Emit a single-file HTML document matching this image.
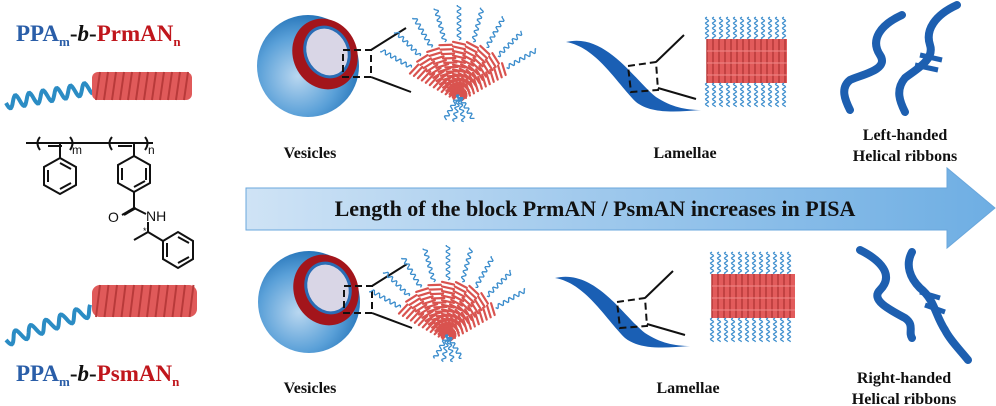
<!DOCTYPE html>
<html><head><meta charset="utf-8"><style>
html,body{margin:0;padding:0;background:#fff;}
svg{display:block;}
text{font-family:"Liberation Serif",serif;font-weight:bold;}
</style></head><body>
<svg id="s" width="996" height="406" viewBox="0 0 996 406" xmlns="http://www.w3.org/2000/svg">
<defs>
<radialGradient id="sph" cx="0.4" cy="0.6" r="0.65">
<stop offset="0" stop-color="#b9d7f0"/><stop offset="0.6" stop-color="#5aa0d8"/><stop offset="1" stop-color="#1f6fb5"/>
</radialGradient>
<linearGradient id="arr" x1="0" x2="1" y1="0" y2="0">
<stop offset="0" stop-color="#cfe3f5"/><stop offset="0.5" stop-color="#9cc7ec"/><stop offset="1" stop-color="#6eaee3"/>
</linearGradient>
</defs>
<path d="M246,188 L947,188 L947,168 L995,208 L947,248 L947,230 L246,230 Z" fill="url(#arr)" stroke="#6aa7dc" stroke-width="1"/>
<text x="595" y="216" font-size="22" text-anchor="middle" fill="#111">Length of the block PrmAN / PsmAN increases in PISA</text>

<text x="16" y="41" font-size="23"><tspan fill="#2a5ea8">PPA</tspan><tspan fill="#2a5ea8" font-size="13" dy="5">m</tspan><tspan fill="#111" dy="-5">-</tspan><tspan fill="#111" font-style="italic">b</tspan><tspan fill="#111">-</tspan><tspan fill="#c0161c">PrmAN</tspan><tspan fill="#c0161c" font-size="13" dy="5">n</tspan></text>
<text x="16" y="381" font-size="23"><tspan fill="#2a5ea8">PPA</tspan><tspan fill="#2a5ea8" font-size="13" dy="5">m</tspan><tspan fill="#111" dy="-5">-</tspan><tspan fill="#111" font-style="italic">b</tspan><tspan fill="#111">-</tspan><tspan fill="#c0161c">PsmAN</tspan><tspan fill="#c0161c" font-size="13" dy="5">n</tspan></text>

<g stroke="#111" stroke-width="2" fill="none">
<path d="M26,143 L153,143"/>
<path d="M40,137 Q35,143 40,150 M70,137 Q75,143 70,150 M112,137 Q107,143 112,150 M145,137 Q150,143 145,150"/>
<path d="M48,146 L62,146 M118,146 L132,146"/>
<path d="M60,143 L60,158"/>
<polygon points="60,158 76,167 76,185 60,194 44,185 44,167"/>
<path d="M48,170 L48,182 M60,163 L71,169 M60,189 L71,183"/>
<path d="M134,143 L134,156"/>
<polygon points="134,156 150,165 150,183 134,192 118,183 118,165"/>
<path d="M122,168 L122,180 M146,168 L146,180 M134,187 L145,181"/>
<path d="M134,192 L134,208 L122,215 M134,208 L146,214"/>
<path d="M136,208 L124,215"/>
<path d="M148,222 L148,232 L134,240 M148,232 L163,241"/>
<polygon points="163,241 178,232 193,241 193,259 178,268 163,259"/>
<path d="M167,243 L167,257 M178,237 L189,243 M178,263 L189,257"/>
</g>
<text x="108" y="222" font-size="14" fill="#111" style="font-family:'Liberation Sans',sans-serif;font-weight:normal">O</text>
<text x="146" y="221" font-size="14" fill="#111" style="font-family:'Liberation Sans',sans-serif;font-weight:normal">NH</text>
<text x="72" y="154" font-size="12" fill="#111" style="font-family:'Liberation Sans',sans-serif;font-weight:normal">m</text>
<text x="148" y="154" font-size="12" fill="#111" style="font-family:'Liberation Sans',sans-serif;font-weight:normal">n</text>
<text x="143" y="234" font-size="9" fill="#111" style="font-family:'Liberation Sans',sans-serif;font-weight:normal">*</text>

<g id="dyn"></g>

<g font-size="16" fill="#111" text-anchor="middle">
<text x="310" y="158">Vesicles</text>
<text x="685" y="158">Lamellae</text>
<text x="905" y="140">Left-handed</text>
<text x="905" y="161">Helical ribbons</text>
<text x="310" y="393">Vesicles</text>
<text x="688" y="393">Lamellae</text>
<text x="904" y="383">Right-handed</text>
<text x="904" y="404">Helical ribbons</text>
</g>
</svg>
<script>
var NS="http://www.w3.org/2000/svg",G=document.getElementById("dyn");
function el(t,a){var e=document.createElementNS(NS,t);for(var k in a)e.setAttribute(k,a[k]);G.appendChild(e);return e;}
function wave(x1,y1,x2,y2,amp,per,col,w){var dx=x2-x1,dy=y2-y1,L=Math.hypot(dx,dy),ux=dx/L,uy=dy/L,d="";for(var s=0;s<=L;s+=1){var o=amp*Math.sin(s/per*2*Math.PI);var x=x1+ux*s-uy*o,y=y1+uy*s+ux*o;d+=(s?"L":"M")+x.toFixed(1)+","+y.toFixed(1);}el("path",{d:d,stroke:col,"stroke-width":w,fill:"none"});}
function coil(x1,y1,x2,y2,rad,n,w){var dx=x2-x1,dy=y2-y1,L=Math.hypot(dx,dy),ux=dx/L,uy=dy/L;for(var i=0;i<n;i++){var cx=x1+ux*L*i/n,cy=y1+uy*L*i/n;var ex=cx+ux*L/n*0.6,ey=cy+uy*L/n*0.6;el("path",{d:"M"+(cx-uy*rad)+","+(cy+ux*rad)+"L"+(ex+uy*rad)+","+(ey-ux*rad),stroke:"#d9534f","stroke-width":w,fill:"none","stroke-linecap":"round"});}}
wave(6,103,92,88,6,14,"#2b8cc4",4);
el("rect",{x:92,y:72,width:100,height:28,rx:6,fill:"#e05a5a"});
for(var i=0;i<12;i++)el("path",{d:"M"+(96+i*8)+",100 L"+(100+i*8)+",72",stroke:"#b83a3a","stroke-width":2});
wave(6,340,92,310,6,16,"#2b8cc4",4);
el("rect",{x:92,y:285,width:105,height:32,rx:8,fill:"#e05a5a"});
for(var i=0;i<12;i++)el("path",{d:"M"+(96+i*8.5)+",317 L"+(100+i*8.5)+",285",stroke:"#b83a3a","stroke-width":2});
function vesicle(cx,cy,fx,fy){
 el("circle",{cx:cx,cy:cy,r:51,fill:"url(#sph)"});
 el("ellipse",{cx:cx+17,cy:cy-12,rx:32,ry:36,fill:"#a3151b",transform:"rotate(-25 "+(cx+17)+" "+(cy-12)+")"});
 el("ellipse",{cx:cx+19,cy:cy-14,rx:23,ry:27,fill:"#2a6db5",transform:"rotate(-25 "+(cx+19)+" "+(cy-14)+")"});
 el("ellipse",{cx:cx+19,cy:cy-14,rx:20,ry:24,fill:"#d9d6e6",transform:"rotate(-25 "+(cx+19)+" "+(cy-14)+")"});
 el("rect",{x:cx+35,y:cy-16,width:28,height:27,fill:"none",stroke:"#111","stroke-width":2,"stroke-dasharray":"7,4"});
 el("path",{d:"M"+(cx+63)+","+(cy-16)+" L"+(cx+98)+","+(cy-38)+" M"+(cx+63)+","+(cy+11)+" L"+(cx+103)+","+(cy+26),stroke:"#111","stroke-width":2});
 for(var a=-60;a<=60;a+=15){var r=a*Math.PI/180;var tx=fx+Math.sin(r)*55,ty=fy-Math.cos(r)*55;coil(fx,fy,tx,ty,6,12,2.2);wave(tx,ty,fx+Math.sin(r)*90,fy-Math.cos(r)*90,2,6,"#3a8ccc",1.3);}
 for(var a=150;a<=210;a+=20){var r=a*Math.PI/180;wave(fx,fy,fx+Math.sin(r)*28,fy-Math.cos(r)*28,2,6,"#3a8ccc",1.3);}
}
vesicle(308,66,459,95);
vesicle(309,302,448,335);
function lamella(x0,y0,sx,bx,by,bw){
 el("path",{d:"M"+x0+","+y0+" C"+(x0+40)+","+(y0-10)+" "+(x0+70)+","+(y0+40)+" "+(x0+90)+","+(y0+55)+" C"+(x0+105)+","+(y0+65)+" "+(x0+120)+","+(y0+68)+" "+(x0+135)+","+(y0+68)+" C"+(x0+110)+","+(y0+70)+" "+(x0+85)+","+(y0+72)+" "+(x0+70)+","+(y0+60)+" C"+(x0+50)+","+(y0+40)+" "+(x0+30)+","+(y0+5)+" "+x0+","+y0+"Z",fill:"#1a5fb4"});
 el("path",{d:"M"+(x0+62)+","+(y0+24)+" L"+(x0+90)+","+(y0+20)+" L"+(x0+92)+","+(y0+48)+" L"+(x0+65)+","+(y0+50)+" Z",fill:"none",stroke:"#111","stroke-width":2,"stroke-dasharray":"7,4"});
 el("path",{d:"M"+(x0+90)+","+(y0+20)+" L"+(x0+118)+","+(y0-7)+" M"+(x0+92)+","+(y0+46)+" L"+(x0+130)+","+(y0+57),stroke:"#111","stroke-width":2});
 el("rect",{x:bx,y:by+22,width:bw,height:44,fill:"#e25b5b"});
 for(var i=0;i<=bw;i+=6)el("path",{d:"M"+(bx+i)+","+(by+22)+" L"+(bx+i)+","+(by+66),stroke:"#b83a3a","stroke-width":1.5});
 for(var j=0;j<3;j++)el("path",{d:"M"+bx+","+(by+34+j*12)+" L"+(bx+bw)+","+(by+34+j*12),stroke:"#f08a8a","stroke-width":1});
 for(var i=0;i<=bw;i+=7){wave(bx+i,by,bx+i,by+22,1.6,5,"#3a8ccc",1.2);wave(bx+i,by+66,bx+i,by+90,1.6,5,"#3a8ccc",1.2);}
}
lamella(566,42,0,707,17,80);
lamella(555,278,0,712,252,83);
function ribbon(d){el("path",{d:d,stroke:"#1d5fb0","stroke-width":8,fill:"none","stroke-linecap":"round"});}
ribbon("M902,15 C880,25 870,40 880,55 C890,70 860,75 850,80 C840,88 845,100 850,110");
ribbon("M957,5 C935,15 925,30 930,45 C935,60 915,70 905,78 C895,90 900,102 905,112");
el("path",{d:"M920,55 L942,60 M915,65 L938,70",stroke:"#1d5fb0","stroke-width":5});
ribbon("M860,250 C880,260 895,275 880,290 C870,300 890,310 905,318 C915,325 908,332 912,338");
ribbon("M912,252 C905,265 910,278 920,288 C935,300 935,315 945,330 C950,340 960,350 968,360");
el("path",{d:"M920,292 L940,298 M925,305 L945,312",stroke:"#1d5fb0","stroke-width":5});
</script>
</body></html>
